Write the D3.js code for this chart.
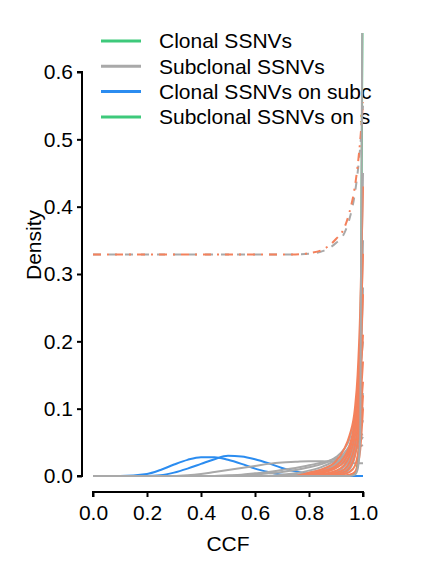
<!DOCTYPE html>
<html>
<head>
<meta charset="utf-8">
<script src="https://cdn.jsdelivr.net/npm/d3@7"></script>
<style>
  body { margin: 0; background: #fff; }
  svg { display: block; font-family: "Liberation Sans", Arial, sans-serif; }
</style>
</head>
<body>
<svg id="chart" width="422" height="569"></svg>
<script>
// CCF grid shared by every density curve
const ccfGrid = [0, 0.1, 0.2, 0.25, 0.3, 0.35, 0.4, 0.45, 0.5, 0.55, 0.6, 0.65, 0.7, 0.75, 0.8, 0.85, 0.9, 0.93, 0.95, 0.97, 0.98, 0.99, 1.0];

const xTicks = [0, 0.2, 0.4, 0.6, 0.8, 1.0];
const yTicks = [0, 0.1, 0.2, 0.3, 0.4, 0.5, 0.6];

const legendLabels = ['Clonal SSNVs', 'Subclonal SSNVs', 'Clonal SSNVs on subc', 'Subclonal SSNVs on s'];

// clonal SSNVs (green, mostly hidden under the spike)
const clonalSpike = [0, 0, 0, 0, 0, 0, 0, 0, 0, 0, 0, 0, 0, 0, 0, 0, 0, 0, 0, 0.003, 0.02, 0.1, 0.8];

// clonal SSNVs on subclone (blue)
const clonalOnSub1 = [0, 0, 0.003, 0.009, 0.017, 0.024, 0.028, 0.028, 0.024, 0.018, 0.011, 0.006, 0.002, 0.001, 0, 0, 0, 0, 0, 0, 0, 0, 0];
const clonalOnSub2 = [0, 0, 0, 0.001, 0.005, 0.011, 0.018, 0.025, 0.03, 0.029, 0.025, 0.019, 0.012, 0.007, 0.003, 0.001, 0, 0, 0, 0, 0, 0, 0];
const clonalOnSub3 = [0, 0, 0, 0, 0, 0, 0, 0, 0, 0, 0, 0, 0, 0, 0, 0, 0, 0, 0, 0, 0, 0, 0];

// subclonal SSNVs (grey)
const subclonal1 = [0, 0, 0, 0, 0, 0.001, 0.003, 0.006, 0.009, 0.012, 0.015, 0.018, 0.02, 0.021, 0.022, 0.022, 0.021, 0.02, 0.02, 0.019, 0.019, 0.019, 0.019];
const subclonal2 = [0, 0, 0, 0, 0, 0, 0, 0, 0.001, 0.002, 0.004, 0.006, 0.009, 0.012, 0.016, 0.02, 0.026, 0.03, 0.035, 0.04, 0.042, 0.044, 0.046];
const subclonal3 = [0, 0, 0, 0, 0, 0, 0, 0, 0, 0.001, 0.002, 0.004, 0.006, 0.009, 0.013, 0.018, 0.028, 0.04, 0.055, 0.09, 0.12, 0.16, 0.2];
const subclonal4 = [0, 0, 0, 0, 0, 0, 0, 0, 0, 0, 0, 0, 0.002, 0.004, 0.008, 0.014, 0.024, 0.034, 0.045, 0.065, 0.08, 0.1, 0.123];
const subclonal5 = [0, 0, 0, 0, 0, 0, 0, 0, 0, 0, 0, 0, 0, 0.002, 0.005, 0.01, 0.02, 0.03, 0.04, 0.058, 0.07, 0.085, 0.102];
const subclonal6 = [0, 0, 0, 0, 0, 0, 0, 0, 0, 0, 0, 0, 0, 0, 0.003, 0.007, 0.015, 0.024, 0.033, 0.048, 0.058, 0.07, 0.083];
const subclonal7 = [0, 0, 0, 0, 0, 0, 0, 0, 0, 0, 0, 0, 0, 0, 0.002, 0.005, 0.012, 0.02, 0.028, 0.038, 0.045, 0.052, 0.058];
const subclonal8 = [0, 0, 0, 0, 0, 0, 0, 0, 0, 0, 0, 0, 0, 0.001, 0.003, 0.008, 0.018, 0.028, 0.038, 0.05, 0.056, 0.06, 0.062];
const subclonal9 = [0, 0, 0, 0, 0, 0, 0, 0, 0, 0, 0, 0, 0, 0, 0, 0.002, 0.006, 0.014, 0.025, 0.06, 0.11, 0.22, 0.45];
const subclonal10 = [0, 0, 0, 0, 0, 0, 0, 0, 0, 0, 0, 0, 0, 0, 0, 0, 0.003, 0.008, 0.016, 0.04, 0.08, 0.17, 0.35];
const subclonal11 = [0, 0, 0, 0, 0, 0, 0, 0, 0, 0, 0, 0, 0, 0, 0, 0, 0.001, 0.004, 0.01, 0.03, 0.06, 0.13, 0.28];
const subclonalSpike = [0, 0, 0, 0, 0, 0, 0, 0, 0, 0, 0, 0, 0, 0, 0, 0, 0, 0, 0, 0.002, 0.01, 0.06, 0.9];

// subclonal SSNVs on subclone (orange)
const onSub1 = [0, 0, 0, 0, 0, 0, 0, 0, 0, 0, 0, 0, 0, 0, 0.005, 0.01, 0.022, 0.04, 0.06, 0.1, 0.15, 0.25, 0.43];
const onSub2 = [0, 0, 0, 0, 0, 0, 0, 0, 0, 0, 0, 0, 0, 0, 0.003, 0.007, 0.015, 0.028, 0.045, 0.085, 0.13, 0.2, 0.33];
const onSub3 = [0, 0, 0, 0, 0, 0, 0, 0, 0, 0, 0, 0, 0, 0, 0.002, 0.005, 0.012, 0.022, 0.038, 0.075, 0.11, 0.17, 0.27];
const onSub4 = [0, 0, 0, 0, 0, 0, 0, 0, 0, 0, 0, 0, 0, 0, 0.001, 0.003, 0.008, 0.016, 0.03, 0.06, 0.09, 0.14, 0.21];
const onSub5 = [0, 0, 0, 0, 0, 0, 0, 0, 0, 0, 0, 0, 0, 0, 0.001, 0.002, 0.005, 0.01, 0.02, 0.045, 0.07, 0.11, 0.17];
const onSub6 = [0, 0, 0, 0, 0, 0, 0, 0, 0, 0, 0, 0, 0, 0, 0, 0.001, 0.003, 0.006, 0.012, 0.03, 0.05, 0.09, 0.14];
const onSub7 = [0, 0, 0, 0, 0, 0, 0, 0, 0, 0, 0, 0, 0, 0, 0, 0, 0.001, 0.003, 0.006, 0.015, 0.03, 0.06, 0.12];
const onSub8 = [0, 0, 0, 0, 0, 0, 0, 0, 0, 0, 0, 0, 0, 0, 0, 0, 0, 0.001, 0.002, 0.006, 0.015, 0.04, 0.1];

// flat prior-like curves (dashed)
const subclonalDashed = [0.329, 0.329, 0.329, 0.329, 0.329, 0.329, 0.329, 0.329, 0.329, 0.329, 0.329, 0.329, 0.329, 0.329, 0.33, 0.334, 0.346, 0.36, 0.382, 0.42, 0.45, 0.49, 0.55];
const onSubDashed = [0.329, 0.329, 0.329, 0.329, 0.329, 0.329, 0.329, 0.329, 0.329, 0.329, 0.329, 0.329, 0.329, 0.329, 0.331, 0.336, 0.352, 0.368, 0.392, 0.43, 0.46, 0.5, 0.555];

const green = '#3ec97b';
const grey = '#a9a9a9';
const blue = '#2b8cf0';
const orange = '#f4815c';

const svg = d3.select('#chart');

const x = d3.scaleLinear().domain([0, 1]).range([93, 363]);
const y = d3.scaleLinear().domain([0, 0.6]).range([476, 72]);

const line = d3.line()
  .x((d, i) => x(ccfGrid[i]))
  .y(d => y(d))
  .curve(d3.curveMonotoneX);

svg.append('defs').append('clipPath').attr('id', 'panel')
  .append('rect').attr('x', 83).attr('y', 33).attr('width', 300).attr('height', 455);

// legend (inside panel, drawn under the curves)
const legendColors = [green, grey, blue, green];
const legend = svg.append('g');
legendLabels.forEach((lab, i) => {
  const ly = 41 + i * 25.3;
  legend.append('line')
    .attr('x1', 101).attr('x2', 141).attr('y1', ly).attr('y2', ly)
    .attr('stroke', legendColors[i]).attr('stroke-width', 3);
  legend.append('text')
    .attr('x', 159).attr('y', ly).attr('dy', '0.35em')
    .attr('font-size', 21).attr('fill', '#000')
    .text(lab);
});

const plot = svg.append('g').attr('clip-path', 'url(#panel)');

const drawSet = (sets, color, dash) => {
  sets.forEach(vals => {
    plot.append('path')
      .datum(vals)
      .attr('d', line)
      .attr('fill', 'none')
      .attr('stroke', color)
      .attr('stroke-width', 2)
      .attr('stroke-dasharray', dash || null);
  });
};

drawSet([clonalSpike], green);
drawSet([clonalOnSub1, clonalOnSub2, clonalOnSub3], blue);
drawSet([subclonal1, subclonal2, subclonal3, subclonal4, subclonal5, subclonal6,
  subclonal7, subclonal8, subclonal9, subclonal10, subclonal11], grey);
drawSet([onSub1, onSub2, onSub3, onSub4, onSub5, onSub6, onSub7, onSub8], orange);
drawSet([subclonalDashed], grey, '8,8');
drawSet([onSubDashed], orange, '8,6,2,6');
drawSet([subclonalSpike], grey);

// axes (prism-style offset)
const xAxis = svg.append('g')
  .attr('transform', 'translate(0,492)')
  .call(d3.axisBottom(x).tickValues(xTicks).tickFormat(d3.format('.1f')).tickSize(5).tickPadding(8));
const yAxis = svg.append('g')
  .attr('transform', 'translate(82,0)')
  .call(d3.axisLeft(y).tickValues(yTicks).tickFormat(d3.format('.1f')).tickSize(5).tickPadding(4));

[xAxis, yAxis].forEach(ax => {
  ax.select('.domain').attr('stroke', '#000').attr('stroke-width', 2);
  ax.selectAll('.tick line').attr('stroke', '#000').attr('stroke-width', 2);
  ax.selectAll('.tick text').attr('font-size', 21).attr('fill', '#000')
    .attr('font-family', '"Liberation Sans", Arial, sans-serif');
});
xAxis.select('.domain').attr('d', `M${x(0)},5V0H${x(1)}V5`);
yAxis.select('.domain').attr('d', `M-5,${y(0.6)}H0V${y(0)}H-5`);

svg.append('text')
  .attr('x', 228).attr('y', 551)
  .attr('text-anchor', 'middle')
  .attr('font-size', 21)
  .text('CCF');

svg.append('text')
  .attr('transform', 'translate(41,245) rotate(-90)')
  .attr('text-anchor', 'middle')
  .attr('font-size', 21)
  .text('Density');
</script>
</body>
</html>
